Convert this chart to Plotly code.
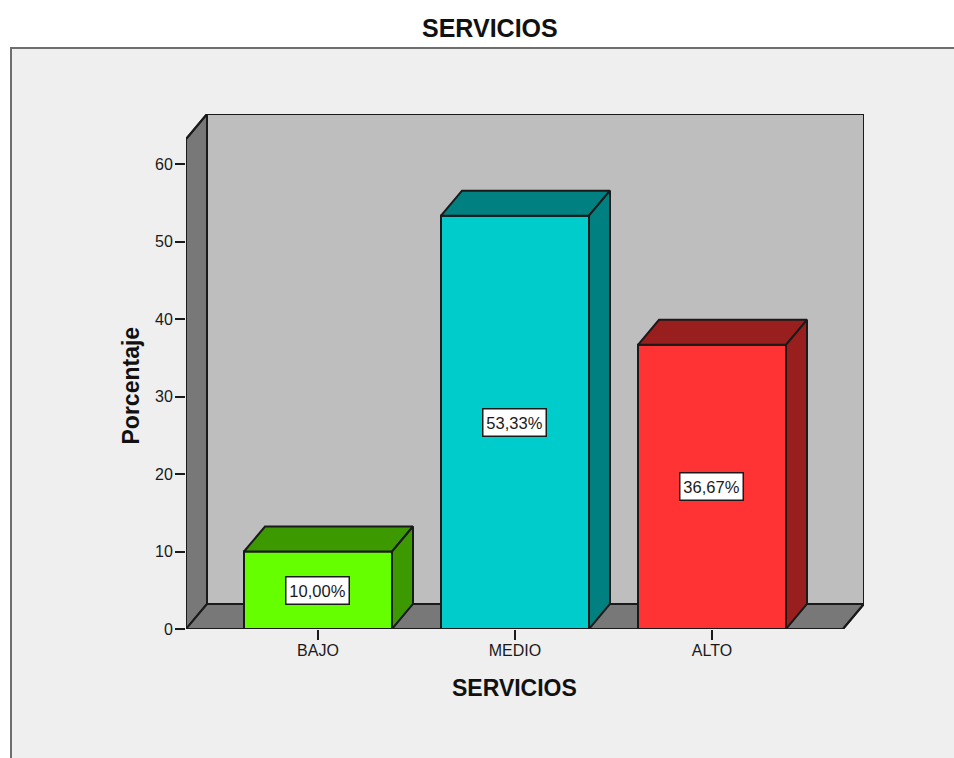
import plotly.graph_objects as go

categories = ["BAJO", "MEDIO", "ALTO"]
values = [10.0, 53.33, 36.67]
labels = ["10,00%", "53,33%", "36,67%"]
y_ticks = [0, 10, 20, 30, 40, 50, 60]
front_colors = ["#66ff00", "#00cccc", "#ff3333"]
top_colors = ["#3d9900", "#008080", "#991f1f"]
side_colors = ["#3d9900", "#008080", "#991f1f"]

FONT = "Liberation Sans, Arial, sans-serif"
INK = "#1a1a1a"

# Pixel placement of the plot area in the 954x758 page
L, R, T, B = 186, 864, 114, 629
W, H = 954, 758
PX_PER_CAT = 197.0
PX_PER_UNIT = 7.75

# Depth of the 3-D effect, in axis units
DX = 21 / PX_PER_CAT
DY = 25 / PX_PER_UNIT
BAR_W = 148 / PX_PER_CAT

x0 = -(318 - L) / PX_PER_CAT
x1 = x0 + (R - L) / PX_PER_CAT
y1 = (B - T) / PX_PER_UNIT
front_top = y1 - DY
front_right = x1 - DX


def path(points):
    return "M " + " L ".join(f"{a},{b}" for a, b in points) + " Z"


edge = dict(color="#1a1a1a", width=2)
shapes = [
    # outer frame of the chart area
    dict(type="rect", xref="paper", yref="paper", layer="below",
         x0=(11 - L) / (R - L), x1=(W + 20 - L) / (R - L),
         y0=-(W - B) / (B - T), y1=(B - 48) / (B - T),
         fillcolor="#efefef", line=dict(color="#6e6e6e", width=2)),
    # back wall
    dict(type="path", layer="below", xref="x", yref="y",
         path=path([(x0 + DX, DY), (x1, DY), (x1, y1), (x0 + DX, y1)]),
         fillcolor="#bebebe", line=edge),
    # left wall
    dict(type="path", layer="below", xref="x", yref="y",
         path=path([(x0, 0), (x0 + DX, DY), (x0 + DX, y1), (x0, front_top)]),
         fillcolor="#787878", line=edge),
    # floor
    dict(type="path", layer="below", xref="x", yref="y",
         path=path([(x0, 0), (front_right, 0), (x1, DY), (x0 + DX, DY)]),
         fillcolor="#787878", line=edge),
]

fig = go.Figure()

fig.add_trace(go.Bar(
    x=[0, 1, 2], y=values, width=BAR_W,
    marker=dict(color=front_colors, line=dict(color="#1a1a1a", width=2)),
    hoverinfo="skip", showlegend=False,
))

for i, v in enumerate(values):
    a, b = i - BAR_W / 2, i + BAR_W / 2
    # top face
    fig.add_trace(go.Scatter(
        x=[a, b, b + DX, a + DX, a], y=[v, v, v + DY, v + DY, v],
        mode="lines", fill="toself", fillcolor=top_colors[i], line=edge,
        hoverinfo="skip", showlegend=False, cliponaxis=False,
    ))
    # right side face
    fig.add_trace(go.Scatter(
        x=[b, b + DX, b + DX, b, b], y=[0, DY, v + DY, v, 0],
        mode="lines", fill="toself", fillcolor=side_colors[i], line=edge,
        hoverinfo="skip", showlegend=False, cliponaxis=False,
    ))

# outer outline of the walls and floor, drawn unclipped
fig.add_trace(go.Scatter(
    x=[front_right, x1, x1, x0 + DX, x0, x0, front_right],
    y=[0, DY, y1, y1, front_top, 0, 0],
    mode="lines", line=edge, hoverinfo="skip", showlegend=False, cliponaxis=False,
))

annotations = [
    dict(x=i - 0.005, y=v / 2, xref="x", yref="y", text=labels[i], showarrow=False,
         font=dict(family=FONT, size=16.5, color=INK), bgcolor="#ffffff",
         bordercolor="#1a1a1a", borderwidth=1.5, borderpad=0, width=62, height=26,
         align="center", valign="middle", xanchor="center", yanchor="middle")
    for i, v in enumerate(values)
]
annotations += [
    dict(x=(490 - L) / (R - L), y=(B - 28) / (B - T), xref="paper", yref="paper",
         text="<b>SERVICIOS</b>", showarrow=False, xanchor="center", yanchor="middle",
         font=dict(family=FONT, size=25, color="#111111")),
    dict(x=(514.5 - L) / (R - L), y=(B - 687.5) / (B - T), xref="paper", yref="paper",
         text="<b>SERVICIOS</b>", showarrow=False, xanchor="center", yanchor="middle",
         font=dict(family=FONT, size=23, color="#111111")),
    dict(x=(130 - L) / (R - L), y=(B - 385.5) / (B - T), xref="paper", yref="paper",
         text="<b>Porcentaje</b>", showarrow=False, textangle=-90,
         xanchor="center", yanchor="middle",
         font=dict(family=FONT, size=23, color="#111111")),
]

fig.update_layout(
    width=W, height=H,
    margin=dict(l=L, r=W - R, t=T, b=H - B, pad=0, autoexpand=False),
    paper_bgcolor="#ffffff", plot_bgcolor="rgba(0,0,0,0)",
    shapes=shapes, annotations=annotations, showlegend=False,
    xaxis=dict(range=[x0, x1], tickmode="array", tickvals=[0, 1, 2], ticktext=categories,
               ticks="outside", ticklen=10, tickwidth=2, tickcolor=INK,
               ticklabelstandoff=-3,
               showgrid=False, zeroline=False, showline=False,
               tickfont=dict(family=FONT, size=16, color=INK)),
    yaxis=dict(range=[0, y1], tickmode="array", tickvals=y_ticks,
               ticktext=[str(t) for t in y_ticks],
               ticks="outside", ticklen=10, tickwidth=2, tickcolor=INK,
               ticklabelstandoff=-1,
               showgrid=False, zeroline=False, showline=False,
               tickfont=dict(family=FONT, size=16, color=INK)),
)

fig.write_html("out.html", config={"displayModeBar": False},
               post_script="document.body.style.margin='0';document.body.style.overflow='hidden';")
